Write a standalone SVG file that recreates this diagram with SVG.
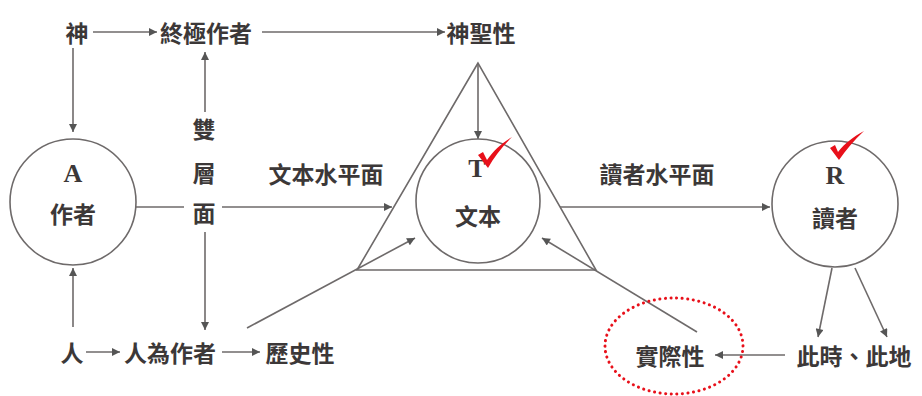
<svg xmlns="http://www.w3.org/2000/svg" width="922" height="396" viewBox="0 0 922 396">
<defs>
<style>
.t{font-family:"Noto Sans CJK TC","Noto Sans CJK SC",sans-serif;font-weight:bold;font-size:23px;fill:#3c3838;text-anchor:middle;dominant-baseline:central}
.l{font-family:"Liberation Serif","DejaVu Serif",serif;font-weight:bold;font-size:26px;fill:#3c3838;text-anchor:middle}
.c{fill:none;stroke:#6e6a6a;stroke-width:1.6}
.ln{fill:none;stroke:#6e6a6a;stroke-width:1.6}
.a{marker-end:url(#ah)}
.chk{fill:#e8101a}
</style>
<marker id="ah" viewBox="0 0 10 10" refX="10" refY="5" markerWidth="10" markerHeight="8" markerUnits="userSpaceOnUse" orient="auto">
<path d="M0,0 L10,5 L0,10 z" fill="#555"/>
</marker>
</defs>
<rect width="922" height="396" fill="#fff"/>

<g id="connectors">
<line class="ln a" x1="93" y1="32" x2="157" y2="32"/>
<line class="ln a" x1="262" y1="32" x2="445" y2="32"/>
<line class="ln a" x1="73" y1="48" x2="73" y2="132"/>
<line class="ln a" x1="205" y1="112" x2="205" y2="52"/>
<line class="ln" x1="136" y1="207" x2="184" y2="207"/>
<line class="ln a" x1="222" y1="207" x2="392" y2="207"/>
<line class="ln a" x1="205" y1="232" x2="205" y2="330"/>
<line class="ln a" x1="478" y1="64" x2="478" y2="139"/>
<line class="ln a" x1="560" y1="207" x2="770" y2="207"/>
<line class="ln a" x1="73" y1="327" x2="73" y2="268"/>
<line class="ln a" x1="86" y1="352" x2="120" y2="352"/>
<line class="ln a" x1="222" y1="352" x2="260" y2="352"/>
<line class="ln a" x1="247" y1="328" x2="415" y2="238"/>
<line class="ln a" x1="697" y1="332" x2="542" y2="238"/>
<line class="ln a" x1="832" y1="268" x2="818" y2="337"/>
<line class="ln a" x1="855" y1="268" x2="887" y2="337"/>
<line class="ln a" x1="785" y1="355" x2="715" y2="355"/>
</g>

<g id="n-shen"><text class="t" x="77" y="32">神</text></g>
<g id="n-ultimate-author"><text class="t" x="206" y="32">終極作者</text></g>
<g id="n-holiness"><text class="t" x="481" y="32">神聖性</text></g>
<g id="n-double-layer">
<text class="t" x="204" y="128">雙</text>
<text class="t" x="204" y="172">層</text>
<text class="t" x="204" y="212">面</text>
</g>
<g id="n-text-plane"><text class="t" x="326" y="173">文本水平面</text></g>
<g id="n-reader-plane"><text class="t" x="657" y="173">讀者水平面</text></g>

<g id="n-A">
<circle class="c" cx="73" cy="202" r="63"/>
<text class="l" x="73" y="182">A</text>
<text class="t" x="73" y="213">作者</text>
</g>

<g id="n-T">
<polygon class="c" points="478,63 357,270 596,270"/>
<circle class="c" cx="478" cy="201" r="62"/>
<text class="l" x="477" y="177">T</text>
<text class="t" x="478" y="215">文本</text>
<path class="chk" d="M478,155 L483,152 L487,160 C494,150 502,143 512,137 C502,147 494,157 488,168 Z"/>
</g>

<g id="n-R">
<circle class="c" cx="835" cy="204" r="63"/>
<text class="l" x="835" y="184">R</text>
<text class="t" x="835" y="217">讀者</text>
<path class="chk" d="M830,148 L835,145 L838,152 C845,143 853,137 864,131 C854,140 846,150 839,160 Z"/>
</g>

<g id="n-human"><text class="t" x="72" y="352">人</text></g>
<g id="n-human-author"><text class="t" x="170" y="352">人為作者</text></g>
<g id="n-historicity"><text class="t" x="300" y="352">歷史性</text></g>

<g id="n-actuality">
<ellipse cx="674" cy="346" rx="69" ry="48" fill="none" stroke="#e8101a" stroke-width="3" stroke-dasharray="0.1 5.5" stroke-linecap="round"/>
<text class="t" x="670" y="355">實際性</text>
</g>
<g id="n-here-now"><text class="t" x="854" y="355">此時、此地</text></g>
</svg>
